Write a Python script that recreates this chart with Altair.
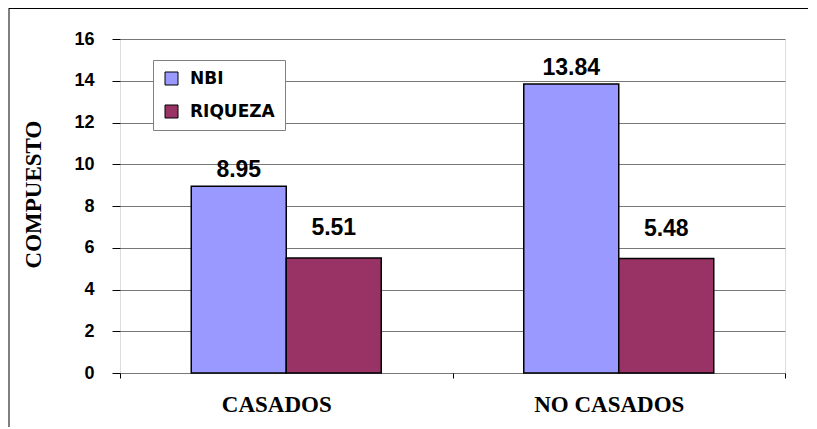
import altair as alt
import pandas as pd

categories = ["CASADOS", "NO CASADOS"]
series = ["NBI", "RIQUEZA"]
nbi = [8.95, 13.84]
riqueza = [5.51, 5.48]
colors = ["#9999FF", "#993366"]
y_ticks = [0, 2, 4, 6, 8, 10, 12, 14, 16]

rows = []
for c, v in zip(categories, nbi):
    rows.append({"cat": c, "serie": "NBI", "value": v})
for c, v in zip(categories, riqueza):
    rows.append({"cat": c, "serie": "RIQUEZA", "value": v})
df = pd.DataFrame(rows)

x_enc = alt.X(
    "cat:N", sort=categories,
    scale=alt.Scale(paddingInner=0, paddingOuter=0),
    axis=alt.Axis(
        title=None, labelAngle=0, tickBand="extent", tickSize=5, tickColor="black",
        domain=False, grid=False, labelFont="Liberation Serif", labelFontWeight="bold",
        labelFontSize=23, labelColor="black", labelPadding=15, labelOffset=-10,
    ),
)
xo_enc = alt.XOffset("serie:N", sort=series,
                     scale=alt.Scale(paddingOuter=0.75, paddingInner=0))
y_enc = alt.Y(
    "value:Q", scale=alt.Scale(domain=[0, 16], nice=False),
    axis=alt.Axis(
        values=y_ticks, format="d", title="COMPUESTO", grid=True, gridColor="#777777",
        gridWidth=1, tickColor="black", tickSize=8, domain=False,
        labelFont="Liberation Sans", labelFontWeight="bold", labelFontSize=18,
        labelColor="black", labelPadding=18,
        titleFont="Liberation Serif", titleFontWeight="bold", titleFontSize=23,
        titleColor="black", titleX=-87, titleY=155, titleAngle=270,
        titleBaseline="middle", titleAlign="center",
    ),
)

base = alt.Chart(df).encode(x=x_enc, xOffset=xo_enc, y=y_enc)

bars = base.mark_bar(stroke="black", strokeWidth=1.5).encode(
    color=alt.Color(
        "serie:N", sort=series, scale=alt.Scale(domain=series, range=colors),
        legend=alt.Legend(
            title=None, orient="none", legendX=33, legendY=21,
            fillColor="white", strokeColor="#808080", padding=10, rowPadding=15,
            symbolType="square", symbolSize=169, symbolStrokeColor="black",
            symbolStrokeWidth=1, symbolOpacity=1,
            labelFont="DejaVu Sans", labelFontWeight="bold", labelFontSize=17,
            labelColor="black", labelOffset=10,
        ),
    )
)

text_style = dict(font="Liberation Sans", fontWeight="bold", fontSize=23,
                  color="black", baseline="middle", align="center")
labels_nbi = base.mark_text(dy=-16, **text_style).encode(
    text=alt.Text("value:Q", format=".2f")
).transform_filter(alt.datum.serie == "NBI")
labels_riq = base.mark_text(dy=-30, **text_style).encode(
    text=alt.Text("value:Q", format=".2f")
).transform_filter(alt.datum.serie == "RIQUEZA")

frame_df = pd.DataFrame({"k": [0]})
frame_left = alt.Chart(frame_df).mark_rule(color="black", strokeWidth=1).encode(
    x=alt.value(-111), y=alt.value(-31), y2=alt.value(390))
frame_top = alt.Chart(frame_df).mark_rule(color="black", strokeWidth=1).encode(
    x=alt.value(-111), x2=alt.value(690), y=alt.value(-30.5))

chart = alt.layer(bars, labels_nbi, labels_riq, frame_left, frame_top).properties(
    width=665, height=334,
    padding={"left": 112, "top": 31, "right": 23, "bottom": 54},
    autosize=alt.AutoSizeParams(type="none"),
).configure_view(stroke="black", strokeWidth=3).configure(background="white")

chart.save("out.html", embed_options={"renderer": "svg", "actions": False})
